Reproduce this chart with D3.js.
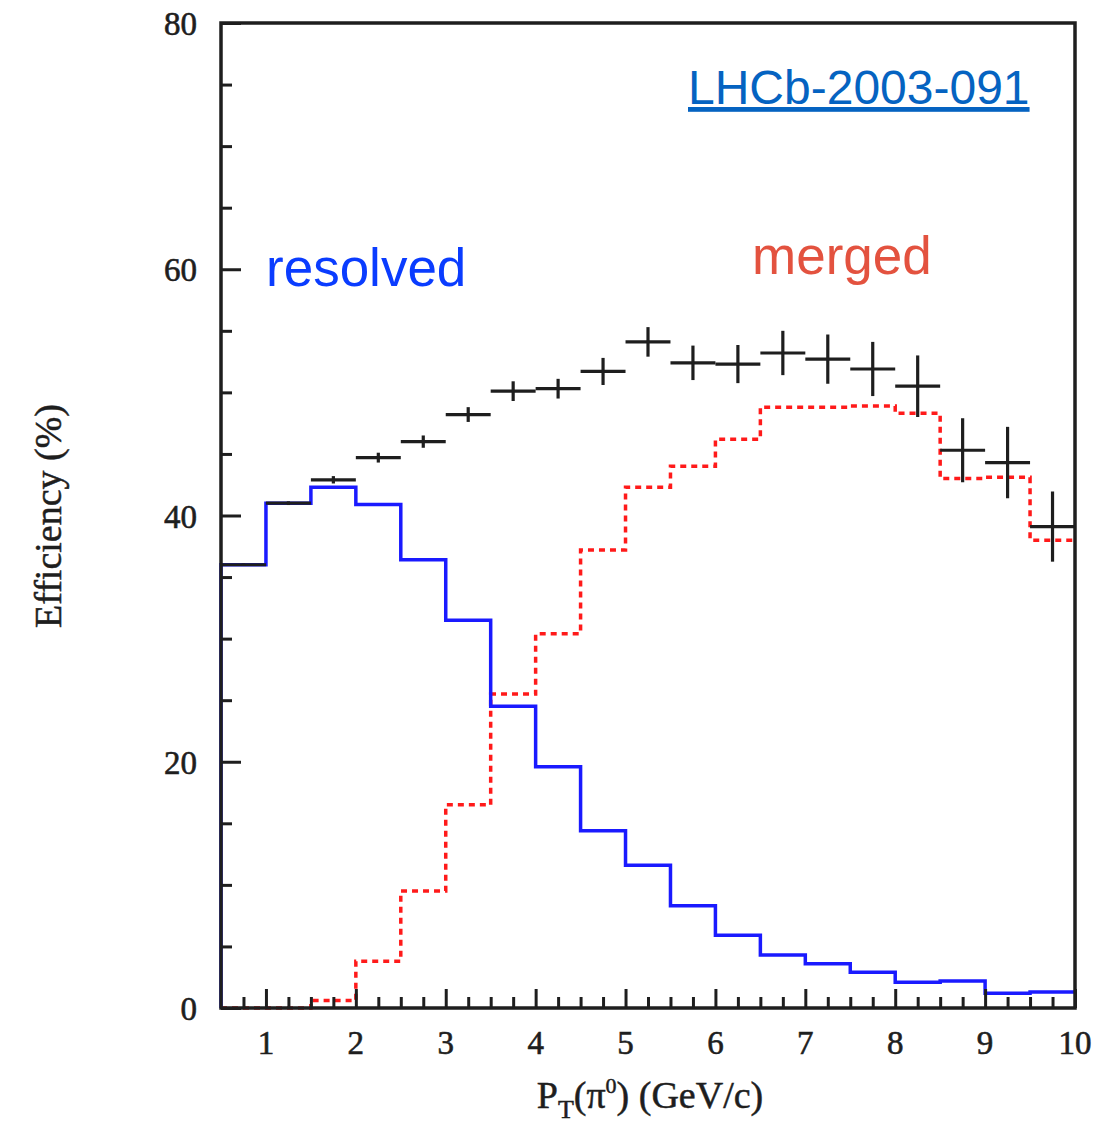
<!DOCTYPE html>
<html>
<head>
<meta charset="utf-8">
<script src="https://cdn.jsdelivr.net/npm/d3@7"></script>
<style>
  html, body { margin: 0; padding: 0; background: #fff; }
  svg { display: block; }
</style>
</head>
<body>
<svg id="chart" width="1116" height="1126"></svg>
<script>
// ---- data ----
const binEdges = [0.5, 1, 1.5, 2, 2.5, 3, 3.5, 4, 4.5, 5, 5.5, 6, 6.5, 7, 7.5, 8, 8.5, 9, 9.5, 10];
const resolved = [36.0, 41.0, 42.3, 40.9, 36.4, 31.5, 24.5, 19.6, 14.4, 11.6, 8.3, 5.9, 4.3, 3.6, 2.9, 2.1, 2.2, 1.2, 1.3];
const merged   = [0, 0, 0.6, 3.8, 9.5, 16.5, 25.5, 30.4, 37.2, 42.3, 44.0, 46.2, 48.8, 48.8, 48.9, 48.3, 43.0, 43.1, 38.0];
const totalEff = [36.0, 41.0, 42.9, 44.7, 46.0, 48.2, 50.1, 50.3, 51.7, 54.1, 52.4, 52.3, 53.2, 52.7, 51.9, 50.5, 45.3, 44.3, 39.1];
const totalErr = [0.1, 0.15, 0.3, 0.4, 0.5, 0.6, 0.8, 0.8, 1.1, 1.2, 1.4, 1.55, 1.8, 2.0, 2.2, 2.5, 2.6, 2.9, 2.85];
const xTickLabels = [1, 2, 3, 4, 5, 6, 7, 8, 9, 10];
const yTickLabels = [0, 20, 40, 60, 80];

// ---- layout ----
const svg = d3.select("#chart");
const L = 221, R = 1075, T = 23, B = 1008;
const x = d3.scaleLinear().domain([0.5, 10]).range([L, R]);
const y = d3.scaleLinear().domain([0, 80]).range([B, T]);

const serif = "'Liberation Serif', 'Times New Roman', serif";
const sans = "'Liberation Sans', Arial, Helvetica, sans-serif";
const ink = "#1e1e1e";

// step path helper
function stepPoints(vals) {
  const pts = [[binEdges[0], 0]];
  vals.forEach((v, i) => {
    pts.push([binEdges[i], v]);
    pts.push([binEdges[i + 1], v]);
  });
  return pts;
}
const line = d3.line().x(d => x(d[0])).y(d => y(d[1]));

// merged (red dotted)
svg.append("path")
  .attr("d", line(stepPoints(merged)))
  .attr("fill", "none")
  .attr("stroke", "#ff1a1a")
  .attr("stroke-width", 3.5)
  .attr("stroke-dasharray", "6,5");

// resolved (blue solid)
svg.append("path")
  .attr("d", line(stepPoints(resolved)))
  .attr("fill", "none")
  .attr("stroke", "#1a1aff")
  .attr("stroke-width", 3.5);

// total with error bars (black)
const g = svg.append("g").attr("stroke", ink).attr("stroke-width", 3.2);
totalEff.forEach((v, i) => {
  const x0 = binEdges[i], x1 = binEdges[i + 1], xc = (x0 + x1) / 2;
  g.append("line").attr("x1", x(x0)).attr("x2", x(x1)).attr("y1", y(v)).attr("y2", y(v));
  g.append("line").attr("x1", x(xc)).attr("x2", x(xc))
    .attr("y1", y(v - totalErr[i])).attr("y2", y(v + totalErr[i]));
});

// frame
svg.append("rect")
  .attr("x", L).attr("y", T).attr("width", R - L).attr("height", B - T)
  .attr("fill", "none").attr("stroke", ink).attr("stroke-width", 3.5);

// x axis ticks (inward)
const xAxis = d3.axisBottom(x).tickValues(xTickLabels).tickSize(-19).tickFormat("");
const xMinor = d3.axisBottom(x).tickValues(d3.range(0.75, 10, 0.25).filter(v => Math.abs(v - Math.round(v)) > 0.01)).tickSize(-11).tickFormat("");
[xAxis, xMinor].forEach(ax => {
  const a = svg.append("g").attr("transform", `translate(0,${B})`).call(ax);
  a.select(".domain").remove();
  a.selectAll("line").attr("stroke", ink).attr("stroke-width", 3);
});
svg.append("g").selectAll("text").data(xTickLabels).join("text")
  .attr("x", d => x(d)).attr("y", 1054)
  .attr("text-anchor", "middle")
  .attr("font-family", serif).attr("font-size", 33).attr("fill", ink)
  .attr("stroke", ink).attr("stroke-width", 0.6)
  .text(d => d);

// y axis ticks (inward)
const yAxis = d3.axisLeft(y).tickValues(yTickLabels).tickSize(-20).tickFormat("");
const yMinor = d3.axisLeft(y).tickValues(d3.range(5, 80, 5).filter(v => v % 20 !== 0)).tickSize(-11).tickFormat("");
[yAxis, yMinor].forEach(ax => {
  const a = svg.append("g").attr("transform", `translate(${L},0)`).call(ax);
  a.select(".domain").remove();
  a.selectAll("line").attr("stroke", ink).attr("stroke-width", 3);
});
svg.append("g").selectAll("text").data(yTickLabels).join("text")
  .attr("x", 197).attr("y", d => y(d) + 12)
  .attr("text-anchor", "end")
  .attr("font-family", serif).attr("font-size", 33).attr("fill", ink)
  .attr("stroke", ink).attr("stroke-width", 0.6)
  .text(d => d);

// axis titles
svg.append("text")
  .attr("transform", "translate(61,516) rotate(-90)")
  .attr("text-anchor", "middle")
  .attr("font-family", serif).attr("font-size", 38).attr("fill", ink)
  .attr("stroke", ink).attr("stroke-width", 0.5)
  .text("Efficiency (%)");

const xt = svg.append("text")
  .attr("x", 650).attr("y", 1108)
  .attr("text-anchor", "middle")
  .attr("font-family", serif).attr("font-size", 38).attr("fill", ink)
  .attr("stroke", ink).attr("stroke-width", 0.5);
xt.append("tspan").text("P");
xt.append("tspan").attr("font-size", 26).attr("dy", 10).text("T");
xt.append("tspan").attr("dy", -10).text("(π");
xt.append("tspan").attr("font-size", 22).attr("dy", -15).text("0");
xt.append("tspan").attr("dy", 15).text(") (GeV/c)");

// annotations
svg.append("text")
  .attr("x", 266).attr("y", 286)
  .attr("font-family", sans).attr("font-size", 53).attr("fill", "#0a3cff")
  .text("resolved");
svg.append("text")
  .attr("x", 752).attr("y", 274)
  .attr("font-family", sans).attr("font-size", 53).attr("fill", "#e3523f")
  .text("merged");
svg.append("text")
  .attr("x", 688).attr("y", 104)
  .attr("font-family", sans).attr("font-size", 48).attr("fill", "#0563c1")
  .attr("text-decoration", "underline")
  .text("LHCb-2003-091");
</script>
</body>
</html>
